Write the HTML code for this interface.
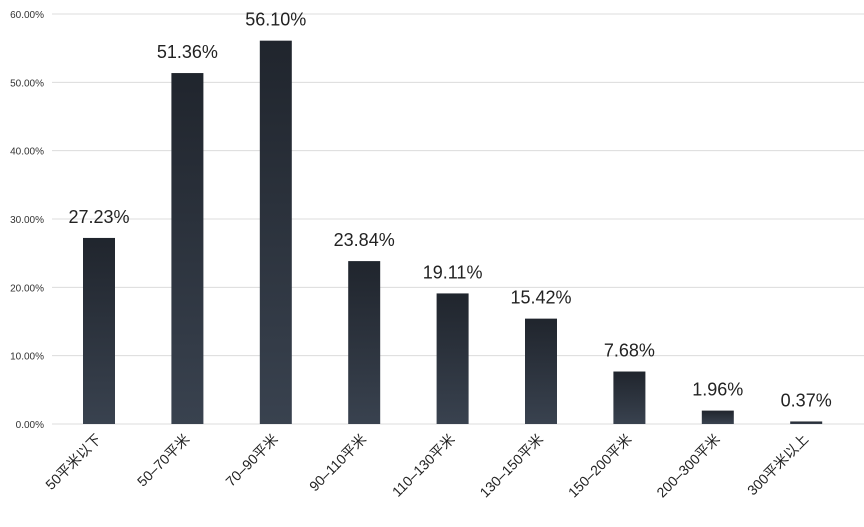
<!DOCTYPE html>
<html><head><meta charset="utf-8"><style>
body{margin:0;background:#fff;}
svg{display:block;font-family:"Liberation Sans","Noto Sans CJK SC",sans-serif;}
</style></head><body>
<svg id="chart" width="864" height="527">
<defs><linearGradient id="bg" x1="0" y1="0" x2="0" y2="1"><stop offset="0" stop-color="#20252d"/><stop offset="1" stop-color="#39424f"/></linearGradient></defs>
<g id="grid"></g><g id="bars"></g><g id="labels"></g>
</svg>
<script>
const categories=["50平米以下","50–70平米","70–90平米","90–110平米","110–130平米","130–150平米","150–200平米","200–300平米","300平米以上"];
const values=[27.23,51.36,56.10,23.84,19.11,15.42,7.68,1.96,0.37];
const ticks=[0,10,20,30,40,50,60];
const ns="http://www.w3.org/2000/svg";
const y0=424,pxPer=68.33,x0=99,step=88.4,bw=32;
const y=v=>y0-v*pxPer/10;
const x=i=>x0+i*step;
function mk(t,a,p){const e=document.createElementNS(ns,t);for(const k in a)e.setAttribute(k,a[k]);p.appendChild(e);return e;}
const G=document.getElementById('grid'),B=document.getElementById('bars'),L=document.getElementById('labels');
ticks.forEach(t=>{
 const l=mk('line',{x1:52,x2:864,y1:y(t),y2:y(t),stroke:'#dcdcdc','stroke-width':1},G);
 
 
 const tx=mk('text',{x:44,y:y(t)+4,'text-anchor':'end','font-size':10,fill:'#333'},G);
 tx.textContent=t.toFixed(2)+'%';
 
 
});
values.forEach((v,i)=>{
 const r=mk('rect',{x:x(i)-bw/2,y:y(v),width:bw,height:y0-y(v),fill:'url(#bg)'},B);
 
 
 const t=mk('text',{x:x(i),y:y(v)-15,'text-anchor':'middle','font-size':18,fill:'#222'},L);
 t.textContent=v.toFixed(2)+'%';
 
 
 const c=mk('text',{x:x(i)+3,y:y0+16,'text-anchor':'end','font-size':14,fill:'#222',transform:`rotate(-45 ${x(i)+3} ${y0+16})`},L);
 c.textContent=categories[i];
 
 
});
</script>
</body></html>
